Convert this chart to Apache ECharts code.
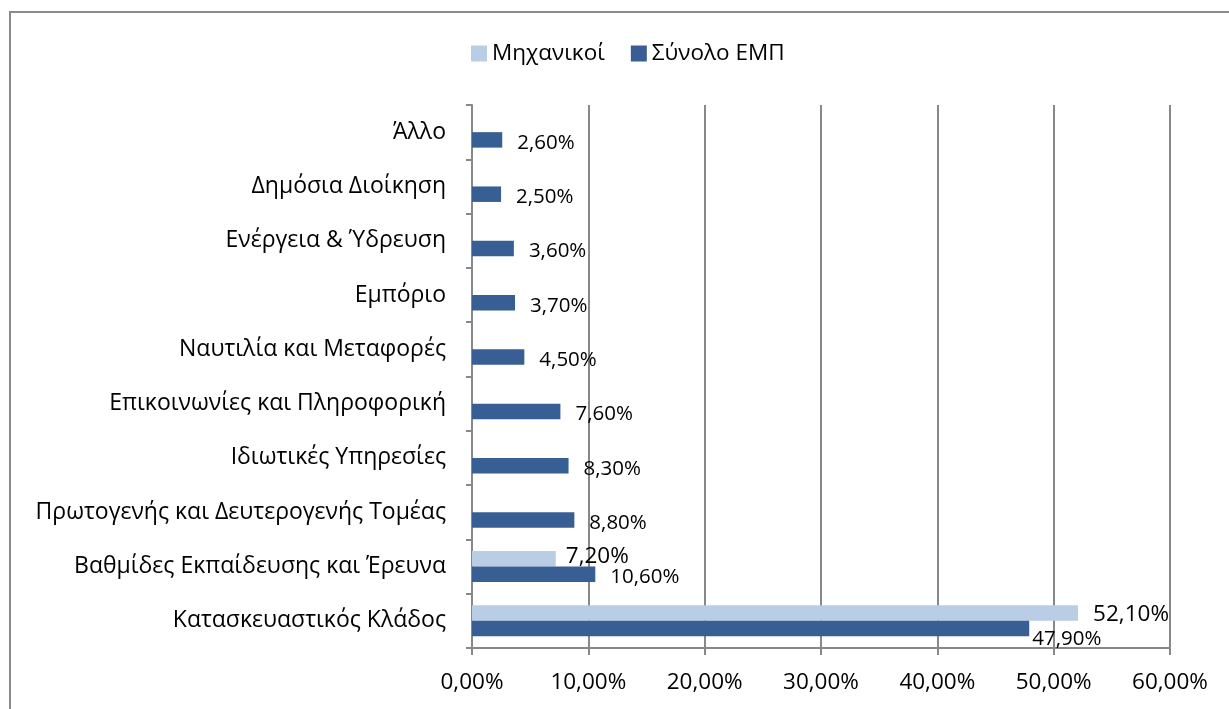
<!DOCTYPE html>
<html>
<head>
<meta charset="utf-8">
<script src="https://cdn.jsdelivr.net/npm/echarts@6/dist/echarts.min.js"></script>
<style>
  html, body { margin: 0; padding: 0; background: #fff; }
  #chart { width: 1229px; height: 709px; }
</style>
</head>
<body>
<div id="chart"></div>
<script>
// Sector categories, listed bottom to top along the vertical axis
const categories = [
  'Κατασκευαστικός Κλάδος',
  'Βαθμίδες Εκπαίδευσης και Έρευνα',
  'Πρωτογενής και Δευτερογενής Τομέας',
  'Ιδιωτικές Υπηρεσίες',
  'Επικοινωνίες και Πληροφορική',
  'Ναυτιλία και Μεταφορές',
  'Εμπόριο',
  'Ενέργεια & Ύδρευση',
  'Δημόσια Διοίκηση',
  'Άλλο'
];
const seriesNames = ['Μηχανικοί', 'Σύνολο ΕΜΠ'];
// Percentages per category (null = no bar)
const engineers = [52.1, 7.2, null, null, null, null, null, null, null, null];
const totalEmp = [47.9, 10.6, 8.8, 8.3, 7.6, 4.5, 3.7, 3.6, 2.5, 2.6];
// Axis range in percent
const xMin = 0, xMax = 60, xStep = 10;

const FONT = 'Open Sans';
const pct = v => v.toFixed(2).replace('.', ',') + '%';

// Label nudges for the bottom category, where labels crowd the axis
const totalLabelOffset = i => (i === 0 ? [-12, 11] : [0, 3]);
const engLabelOffset = i => (i === 0 ? [0, 1] : [-5, -2]);

const chart = echarts.init(document.getElementById('chart'));
chart.setOption({
  animation: false,
  backgroundColor: '#fff',
  graphic: [{
    type: 'rect',
    shape: { x: 10, y: 12, width: 1260, height: 760 },
    style: { fill: 'none', stroke: '#8a8a8a', lineWidth: 2 },
    silent: true,
    z: -10
  }],
  legend: {
    left: 466,
    top: 37,
    itemWidth: 16,
    itemHeight: 16,
    itemGap: 26,
    icon: 'rect',
    itemStyle: { borderWidth: 0 },
    textStyle: { fontFamily: FONT, fontSize: 22.5, color: '#000' },
    data: seriesNames
  },
  grid: { left: 472, right: 59, top: 105, bottom: 61, containLabel: false },
  xAxis: {
    type: 'value',
    min: xMin, max: xMax, interval: xStep,
    axisLine: { show: true, lineStyle: { color: '#888', width: 2 } },
    axisTick: { show: true, length: 7, lineStyle: { color: '#888', width: 2 } },
    splitLine: { show: true, lineStyle: { color: '#888', width: 2 } },
    axisLabel: {
      margin: 23, fontFamily: FONT, fontSize: 22.5, color: '#000',
      formatter: v => pct(v)
    }
  },
  yAxis: {
    type: 'category',
    data: categories,
    axisLine: { show: true, lineStyle: { color: '#888', width: 2 } },
    axisTick: { show: true, length: 6, lineStyle: { color: '#888', width: 2 } },
    axisLabel: { margin: 26, fontFamily: FONT, fontSize: 23, color: '#000' }
  },
  series: [
    {
      name: seriesNames[0],
      type: 'bar',
      barGap: '0%',
      barCategoryGap: '43%',
      itemStyle: { color: '#b9cde5' },
      data: engineers.map((v, i) => ({
        value: v,
        label: { offset: engLabelOffset(i) }
      })),
      label: {
        show: true, position: 'right', distance: 15,
        fontFamily: FONT, fontSize: 22.5, color: '#000',
        formatter: p => pct(p.value)
      }
    },
    {
      name: seriesNames[1],
      type: 'bar',
      barGap: '0%',
      barCategoryGap: '43%',
      itemStyle: { color: '#385f93' },
      data: totalEmp.map((v, i) => ({
        value: v,
        label: { offset: totalLabelOffset(i) }
      })),
      label: {
        show: true, position: 'right', distance: 15,
        fontFamily: FONT, fontSize: 20.5, color: '#000',
        formatter: p => pct(p.value)
      }
    }
  ]
});
</script>
</body>
</html>
